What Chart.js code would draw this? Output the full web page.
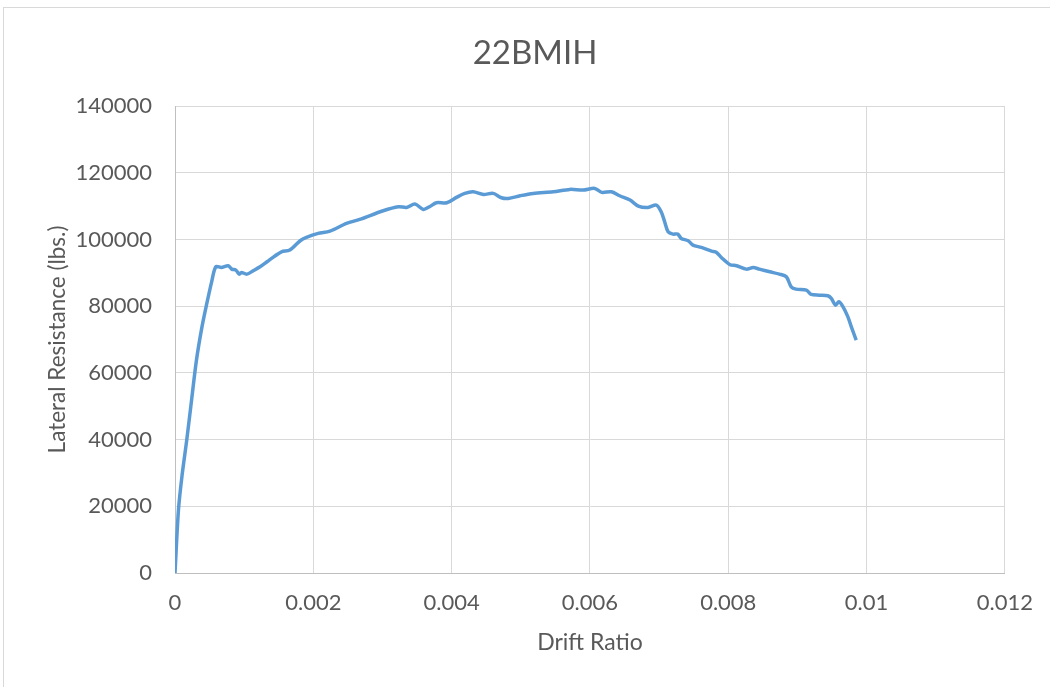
<!DOCTYPE html>
<html>
<head>
<meta charset="utf-8">
<script src="https://cdn.jsdelivr.net/npm/chart.js@4"></script>
<style>
  html, body { margin: 0; padding: 0; background: #fff; }
  #wrap { position: relative; width: 1050px; height: 687px; }
  #frame { position: absolute; left: 3px; top: 7px; width: 1060px; height: 700px; border: 1px solid #d9d9d9; box-sizing: border-box; }
  canvas { position: absolute; left: 0; top: 0; }
</style>
</head>
<body>
<div id="wrap">
  <div id="frame"></div>
  <canvas id="chart" width="1050" height="687"></canvas>
</div>
<script>
const drift = [
    0, 0.00005, 0.0001, 0.00017, 0.00024, 0.00031, 0.00039, 0.00046, 0.00053, 0.00059,
    0.00067, 0.00077, 0.00082, 0.00088, 0.00093, 0.00096, 0.00104, 0.00113, 0.00123, 0.00133,
    0.00145, 0.00154, 0.00166, 0.00181, 0.0019, 0.00207, 0.00224, 0.00248, 0.00267, 0.00301,
    0.00323, 0.00335, 0.00347, 0.00359, 0.00368, 0.00378, 0.00393, 0.00407, 0.00419, 0.00431,
    0.00446, 0.0046, 0.00472, 0.00482, 0.00499, 0.00518, 0.00547, 0.00571, 0.0059, 0.00607,
    0.00617, 0.00631, 0.00643, 0.00658, 0.0067, 0.00684, 0.00696, 0.00703, 0.00708, 0.00713,
    0.0072, 0.00727, 0.00732, 0.00742, 0.00749, 0.00761, 0.00776, 0.00783, 0.0079, 0.00802,
    0.00812, 0.00826, 0.00836, 0.00845, 0.0086, 0.00874, 0.00884, 0.00891, 0.00898, 0.00913,
    0.0092, 0.00932, 0.00944, 0.00949, 0.00955, 0.0096, 0.00966, 0.00973, 0.00978, 0.00985
];
const resistance = [
    0, 18900, 28900, 39900, 51900, 63800, 73800, 80800, 87300, 91800,
    91600, 92100, 91100, 90800, 89600, 90100, 89600, 90600, 91800, 93300,
    95100, 96300, 96800, 99600, 100600, 101800, 102500, 104800, 106000, 108600,
    109800, 109600, 110600, 109000, 109800, 111000, 111000, 112600, 113800, 114300,
    113500, 113800, 112500, 112300, 113100, 113800, 114300, 115000, 114800, 115300,
    114100, 114300, 113100, 111800, 110000, 109600, 110300, 108300, 105300, 102300,
    101600, 101600, 100300, 99600, 98300, 97600, 96500, 96100, 94600, 92500,
    92100, 91100, 91600, 91100, 90300, 89600, 88800, 85800, 85100, 84800,
    83500, 83300, 83100, 82300, 80300, 81300, 79800, 76800, 73800, 69800
];
const xTicks = [0, 0.002, 0.004, 0.006, 0.008, 0.01, 0.012];
const yTicks = [0, 20000, 40000, 60000, 80000, 100000, 120000, 140000];
const chartTitle = '22BMIH';

const textColor = '#595959';
const fontFamily = 'Lato, "Open Sans", sans-serif';

const points = drift.map((x, i) => ({ x: x, y: resistance[i] }));

// Excel centres the title over the whole chart, not over the padded box
const centredTitle = {
    id: 'centredTitle',
    afterDraw: chart => {
        const ctx = chart.ctx;
        ctx.save();
        ctx.fillStyle = textColor;
        ctx.font = '33px ' + fontFamily;
        ctx.textAlign = 'center';
        ctx.textBaseline = 'middle';
        ctx.fillText(chartTitle, 535, 53);
        ctx.restore();
    }
};

new Chart(document.getElementById('chart'), {
    type: 'scatter',
    data: {
        datasets: [
            {
                label: chartTitle,
                data: points,
                showLine: true,
                borderColor: '#5b9bd5',
                backgroundColor: '#5b9bd5',
                borderWidth: 3.5,
                pointRadius: 0,
                tension: 0.3
            }
        ]
    },
    options: {
        responsive: false,
        animation: false,
        layout: {
            padding: { left: 0, right: 45, top: 106, bottom: 0 }
        },
        plugins: {
            legend: { display: false },
            tooltip: { enabled: false },
            title: { display: false }
        },
        scales: {
            x: {
                type: 'linear',
                min: xTicks[0],
                max: xTicks[xTicks.length - 1],
                afterBuildTicks: axis => { axis.ticks = xTicks.map(v => ({ value: v })); },
                afterFit: axis => { axis.height = 114; },
                grid: { color: '#d9d9d9', drawTicks: false },
                border: { color: '#bfbfbf' },
                ticks: {
                    color: textColor,
                    padding: 17,
                    maxRotation: 0,
                    font: { family: fontFamily, size: 22 },
                    callback: v => String(Number(v.toFixed(6)))
                },
                title: {
                    display: true,
                    text: 'Drift Ratio',
                    color: textColor,
                    font: { family: fontFamily, size: 23 },
                    padding: { top: 0, bottom: 31 }
                }
            },
            y: {
                type: 'linear',
                min: yTicks[0],
                max: yTicks[yTicks.length - 1],
                afterBuildTicks: axis => { axis.ticks = yTicks.map(v => ({ value: v })); },
                afterFit: axis => { axis.width = 175; },
                grid: { color: '#d9d9d9', drawTicks: false },
                border: { color: '#bfbfbf' },
                ticks: {
                    color: textColor,
                    padding: 23,
                    font: { family: fontFamily, size: 22 },
                    callback: v => String(v)
                },
                title: {
                    display: true,
                    text: 'Lateral Resistance (lbs.)',
                    color: textColor,
                    font: { family: fontFamily, size: 22.5 },
                    padding: { top: 44, bottom: 0 }
                }
            }
        }
    },
    plugins: [centredTitle]
});
</script>
</body>
</html>
